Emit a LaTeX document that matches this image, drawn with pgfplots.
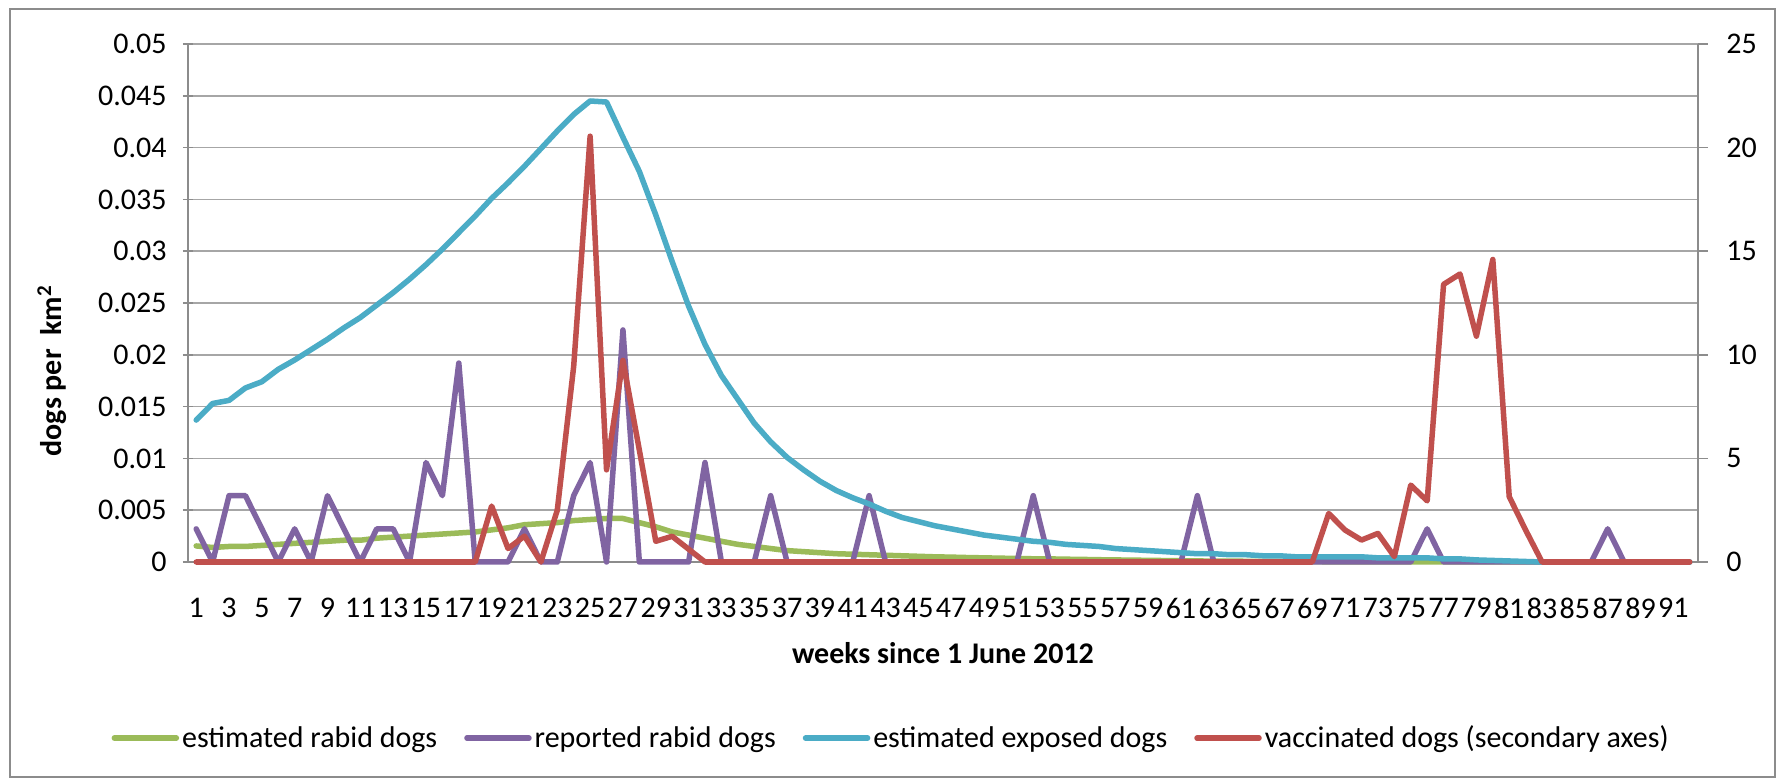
\documentclass[border=0pt]{standalone}
\usepackage{pgfplots}
\pgfplotsset{compat=1.18}
\usepackage{pgfplotstable}
\usepackage{fontspec}
\setmainfont{Carlito}
\definecolor{cgreen}{HTML}{9BBB59}
\definecolor{cpurple}{HTML}{8064A2}
\definecolor{cblue}{HTML}{4BACC6}
\definecolor{cred}{HTML}{C0504D}
\definecolor{gridgray}{HTML}{A6A6A6}
\definecolor{axgray}{HTML}{8C8C8C}
\definecolor{framegray}{HTML}{8C8C8C}

% week, estimated rabid, reported rabid, estimated exposed (left axis)
\pgfplotstableread{
w g p b
1 0.00155 0.0032 0.0137
2 0.0014 0 0.0153
3 0.0015 0.0064 0.0156
4 0.0015 0.0064 0.0168
5 0.0016 0.0032 0.0174
6 0.0017 0 0.0186
7 0.0018 0.0032 0.0195
8 0.0019 0 0.0205
9 0.0020 0.0064 0.0215
10 0.0021 0.0032 0.0226
11 0.0021 0 0.0236
12 0.0023 0.0032 0.0248
13 0.0024 0.0032 0.0260
14 0.0025 0 0.0273
15 0.0026 0.0096 0.0287
16 0.0027 0.0064 0.0302
17 0.0028 0.0192 0.0318
18 0.0029 0 0.0334
19 0.0031 0 0.0351
20 0.0033 0 0.0366
21 0.0036 0.0032 0.0382
22 0.0037 0 0.0399
23 0.0038 0 0.0416
24 0.0040 0.0064 0.0432
25 0.0041 0.0096 0.0445
26 0.0042 0 0.0444
27 0.0042 0.0224 0.0410
28 0.0038 0 0.0377
29 0.0034 0 0.0335
30 0.0029 0 0.0290
31 0.0026 0 0.0247
32 0.0023 0.0096 0.0210
33 0.0020 0 0.0180
34 0.0017 0 0.0157
35 0.0015 0 0.0134
36 0.0013 0.0064 0.0116
37 0.0011 0 0.0101
38 0.0010 0 0.0089
39 0.0009 0 0.0078
40 0.0008 0 0.0069
41 0.00075 0 0.0062
42 0.0007 0.0064 0.0056
43 0.00065 0 0.0049
44 0.0006 0 0.0043
45 0.00055 0 0.0039
46 0.0005 0 0.0035
47 0.00047 0 0.0032
48 0.00043 0 0.0029
49 0.0004 0 0.0026
50 0.00037 0 0.0024
51 0.00034 0 0.0022
52 0.00031 0.0064 0.0020
53 0.0003 0 0.0019
54 0.00027 0 0.0017
55 0.00025 0 0.0016
56 0.00022 0 0.0015
57 0.0002 0 0.0013
58 0.00018 0 0.0012
59 0.00016 0 0.0011
60 0.00014 0 0.0010
61 0.00012 0 0.0009
62 0.0001 0.0064 0.0008
63 0.00009 0 0.0008
64 0.00008 0 0.0007
65 0.00007 0 0.0007
66 0.00006 0 0.0006
67 0.00005 0 0.0006
68 0.00004 0 0.0005
69 0.00003 0 0.0005
70 0.00002 0 0.0005
71 0 0 0.0005
72 0 0 0.0005
73 0 0 0.0004
74 0 0 0.0004
75 0 0 0.0004
76 0 0.0032 0.0004
77 0 0 0.0003
78 0 0 0.0003
79 0 0 0.0002
80 0 0 0.00015
81 0 0 0.0001
82 0 0 0.00005
83 0 0 0
84 0 0 0
85 0 0 0
86 0 0 0
87 0 0.0032 0
88 0 0 0
89 0 0 0
90 0 0 0
91 0 0 0
92 0 0 0
}\dataleft

% week, vaccinated dogs (secondary axis)
\pgfplotstableread{
w r
1 0
2 0
3 0
4 0
5 0
6 0
7 0
8 0
9 0
10 0
11 0
12 0
13 0
14 0
15 0
16 0
17 0
18 0
19 2.7
20 0.65
21 1.25
22 0
23 2.5
24 9.45
25 20.55
26 4.45
27 9.73
28 5.4
29 1.0
30 1.24
31 0.62
32 0
33 0
34 0
35 0
36 0
37 0
38 0
39 0
40 0
41 0
42 0
43 0
44 0
45 0
46 0
47 0
48 0
49 0
50 0
51 0
52 0
53 0
54 0
55 0
56 0
57 0
58 0
59 0
60 0
61 0
62 0
63 0
64 0
65 0
66 0
67 0
68 0
69 0
70 2.34
71 1.54
72 1.06
73 1.38
74 0.26
75 3.71
76 2.95
77 13.4
78 13.9
79 10.9
80 14.6
81 3.15
82 1.54
83 0
84 0
85 0
86 0
87 0
88 0
89 0
90 0
91 0
92 0
}\dataright

\pgfplotsset{
  mybase/.style={
    at={(94bp,109bp)}, anchor=south west,
    scale only axis, width=755bp, height=259bp,
    xmin=0.5, xmax=92.5,
    clip=false,
    scaled ticks=false,
    tick align=outside, major tick length=5bp,
    every tick label/.append style={font=\fontsize{15bp}{18bp}\selectfont},
    /pgf/number format/assume math mode=true,
  },
  ser/.style={line width=2.75bp, line join=round, line cap=round},
}

\begin{document}
\begin{tikzpicture}
\useasboundingbox (0,0) rectangle (890.5bp,390bp);
\fill[white] (0,0) rectangle (890.5bp,390bp);
\draw[framegray, line width=1bp] (5bp,1.5bp) rectangle (887.5bp,385.5bp);

\begin{axis}[
  mybase,
  ymin=0, ymax=0.05,
  axis x line=bottom, axis y line=left,
  axis line style={-, draw=axgray, line width=0.75bp},
  ytick={0,0.005,0.01,0.015,0.02,0.025,0.03,0.035,0.04,0.045,0.05},
  yticklabels={0,0.005,0.01,0.015,0.02,0.025,0.03,0.035,0.04,0.045,0.05},
  ytick style={draw=axgray, line width=0.75bp},
  yticklabel style={anchor=east, inner sep=0pt, xshift=-8bp},
  ymajorgrids,
  grid style={draw=gridgray, line width=0.75bp},
  xtick={1,3,5,7,9,11,13,15,17,19,21,23,25,27,29,31,33,35,37,39,41,43,45,47,49,51,53,55,57,59,61,63,65,67,69,71,73,75,77,79,81,83,85,87,89,91},
  xticklabels={1,3,5,7,9,11,13,15,17,19,21,23,25,27,29,31,33,35,37,39,41,43,45,47,49,51,53,55,57,59,61,63,65,67,69,71,73,75,77,79,81,83,85,87,89,91},
  xtick style={draw=none},
  xticklabel style={anchor=center, yshift=-20.5bp, inner sep=0pt},
  xlabel={\textbf{weeks since 1 June 2012}},
  xlabel style={at={(axis description cs:0.5,0)}, anchor=center, yshift=-45.5bp, font=\fontsize{15bp}{18bp}\selectfont},
  ylabel={\textbf{dogs per\ \ km\textsuperscript{2}}},
  ylabel style={at={(axis description cs:-0.090,0.369)}, anchor=center, font=\fontsize{15bp}{18bp}\selectfont},
]
\addplot[ser, cgreen] table[x=w, y=g] {\dataleft};
\addplot[ser, cpurple] table[x=w, y=p] {\dataleft};
\addplot[ser, cblue] table[x=w, y=b] {\dataleft};
\end{axis}

\begin{axis}[
  mybase,
  ymin=0, ymax=25,
  axis x line=none, axis y line*=right,
  axis line style={-, draw=axgray, line width=0.75bp},
  ytick={0,5,10,15,20,25},
  yticklabels={0,5,10,15,20,25},
  ytick style={draw=axgray, line width=0.75bp},
  yticklabel style={anchor=west, inner sep=0pt, xshift=9bp},
  legend columns=4,
  legend style={at={(0.466,-0.340)}, anchor=center, draw=none, fill=none,
    font=\fontsize{15bp}{18bp}\selectfont,
    nodes={inner xsep=1.5bp},
    /tikz/every even column/.append style={column sep=12bp}},
  legend image code/.code={\draw[#1] (0bp,0bp) -- (31bp,0bp);},
]
\addlegendimage{ser, cgreen}
\addlegendentry{estimated rabid dogs}
\addlegendimage{ser, cpurple}
\addlegendentry{reported rabid dogs}
\addlegendimage{ser, cblue}
\addlegendentry{estimated exposed dogs}
\addplot[ser, cred] table[x=w, y=r] {\dataright};
\addlegendentry{vaccinated dogs (secondary axes)}
\end{axis}
\end{tikzpicture}
\end{document}
